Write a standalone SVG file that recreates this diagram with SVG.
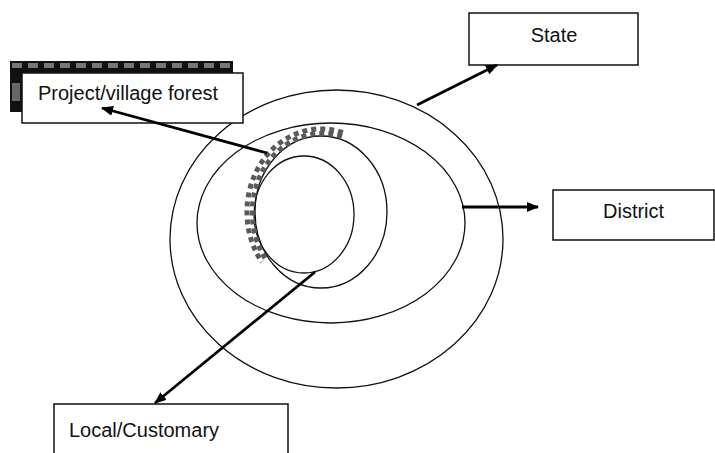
<svg xmlns="http://www.w3.org/2000/svg" width="715" height="453" viewBox="0 0 715 453">
<style>
.box{fill:#fff;stroke:#111;stroke-width:1.5}
.lbl{font-family:"Liberation Sans",Arial,sans-serif;font-size:20px;fill:#111}
.ring{fill:none;stroke:#111;stroke-width:1.3}
.conn{stroke:#000;stroke-width:2.8;fill:none;marker-end:url(#ah)}
.chk{fill:none;stroke:#5a5a5a;stroke-width:5;stroke-dasharray:5 4}
</style>
<defs>
<marker id="ah" viewBox="0 0 12 10" refX="11" refY="5" markerWidth="12" markerHeight="10" markerUnits="userSpaceOnUse" orient="auto">
<path d="M0,0 L12,5 L0,10 Z" fill="#000"/>
</marker>
</defs>
<rect width="715" height="453" fill="#fff"/>
<g id="rings">
<ellipse class="ring" cx="336.5" cy="239" rx="166.5" ry="149"/>
<ellipse class="ring" cx="331" cy="223" rx="134" ry="100"/>
<ellipse class="ring" cx="321" cy="212" rx="66" ry="76"/>
<ellipse class="ring" cx="304" cy="214.5" rx="50" ry="58.5"/>
<path class="chk" d="M265.1,258.1 A70,79 0 0 1 343.8,137.3"/>
<path class="chk" stroke-dashoffset="4.5" d="M261.9,262.0 A74,83 0 0 1 345.1,133.5"/>
</g>
<g id="node-state">
<rect class="box" x="469" y="13" width="169" height="52"/>
<text class="lbl" x="554" y="42" text-anchor="middle">State</text>
</g>
<g id="node-district">
<rect class="box" x="553" y="190" width="161" height="50"/>
<text class="lbl" x="603" y="218">District</text>
</g>
<g id="node-project">
<rect x="10" y="61" width="223" height="51" fill="#111"/>
<line x1="12" y1="65.5" x2="233" y2="65.5" stroke="#777" stroke-width="5" stroke-dasharray="10 6"/>
<rect x="12" y="83" width="8" height="18" fill="#666"/>
<rect class="box" x="22" y="73" width="221" height="50"/>
<text class="lbl" x="38" y="100">Project/village forest</text>
</g>
<g id="node-local">
<rect class="box" x="54" y="404" width="234" height="60"/>
<text class="lbl" x="69" y="437">Local/Customary</text>
</g>
<g id="connectors">
<line class="conn" x1="267" y1="153" x2="102" y2="108"/>
<line class="conn" x1="417" y1="105" x2="497" y2="65"/>
<line class="conn" x1="462" y1="207" x2="538" y2="207"/>
<line class="conn" x1="315" y1="272" x2="155" y2="403"/>
</g>
</svg>
